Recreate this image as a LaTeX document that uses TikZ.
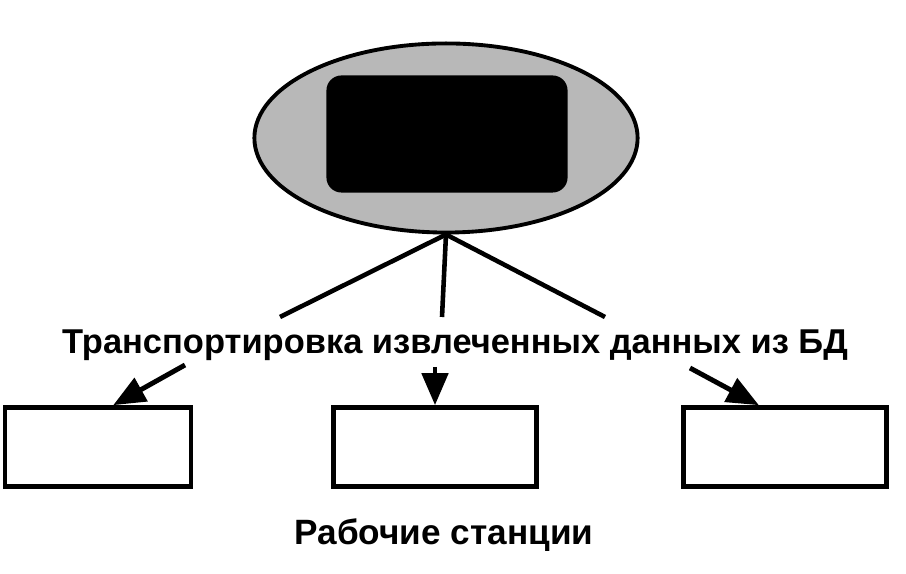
\documentclass[tikz,border=0pt]{standalone}
\usepackage{fontspec}
\setmainfont{Liberation Sans}
\usetikzlibrary{arrows.meta, shapes.geometric}
\begin{document}
\begin{tikzpicture}[x=0.01cm, y=-0.01cm,
    station/.style = {draw, line width=1.3pt, minimum width=2.03cm, minimum height=0.79cm, inner sep=0pt},
    link/.style = {line width=1.3pt},
    transfer/.style = {line width=1.4pt, -{Triangle[length=0.32cm, width=0.26cm]}}]
    \useasboundingbox (0,0) rectangle (906,574);
    % server with the database
    \node[draw, ellipse, line width=1.1pt, fill=black!28, minimum width=3.83cm, minimum height=1.89cm, inner sep=0pt] (db) at (446,138) {};
    \node[fill=black, rounded corners=0.15cm, minimum width=2.41cm, minimum height=1.17cm, inner sep=0pt] (core) at (447,134) {};
    \coordinate (l1) at (280,317);
    \coordinate (l2) at (442,317);
    \coordinate (l3) at (605,317);
    \draw[link] (db.south) -- (l1);
    \draw[link] (db.south) -- (l2);
    \draw[link] (db.south) -- (l3);
    \node[font=\bfseries\fontsize{9.8}{12}\selectfont] (label) at (455,345) {Транспортировка извлеченных данных из БД};
    % workstations
    \node[station, minimum width=1.86cm] (st1) at (98,447) {};
    \node[station] (st2) at (435,447) {};
    \node[station] (st3) at (785,447) {};
    \coordinate (a1) at (185,365);
    \coordinate (a2) at (435,367);
    \coordinate (a3) at (690,368);
    \draw[transfer] (a1) -- (st1.70);
    \draw[transfer] (a2) -- (st2.north);
    \draw[transfer] (a3) -- (st3.122);
    \node[font=\bfseries\fontsize{10}{12}\selectfont] (ws) at (444,535) {Рабочие станции};
\end{tikzpicture}
\end{document}
